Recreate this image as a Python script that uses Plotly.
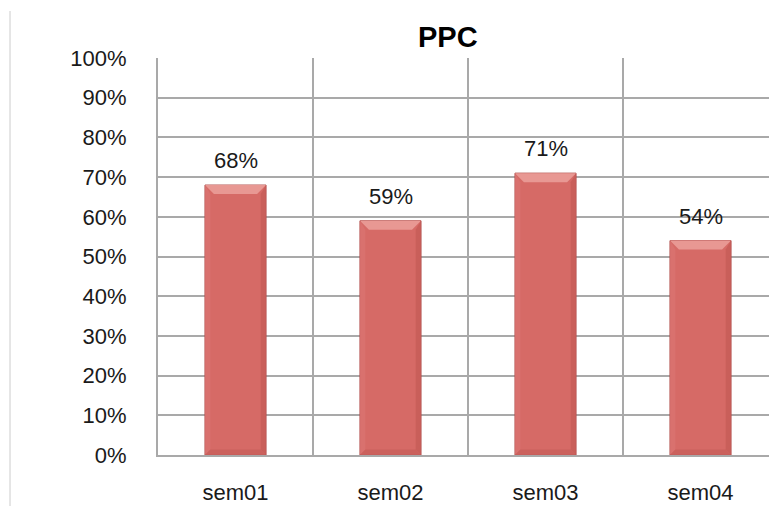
import plotly.graph_objects as go

# Weekly PPC values
categories = ["sem01", "sem02", "sem03", "sem04"]
ppc_values = [0.68, 0.59, 0.71, 0.54]
y_ticks = [i / 10 for i in range(11)]

FONT = "Liberation Sans, Arial, sans-serif"
BAR_W = 0.394
W, H = 769, 506
M_L, M_T, M_B = 158, 58, 51
PX_X = 155.0                      # pixels per category
PX_Y = (H - M_T - M_B) / 1.0      # pixels per unit on y
x_hi = -0.5 + (W - M_L) / PX_X

fig = go.Figure()
fig.add_trace(go.Bar(
    x=list(range(len(categories))), y=ppc_values, width=BAR_W,
    marker=dict(color="#d66a66", line=dict(color="#b0504d", width=1)),
    hoverinfo="skip",
))

shapes = []
# bevel highlights on each bar
bx = 9 / PX_X
by = 9 / PX_Y
hw = BAR_W / 2
for i, v in enumerate(ppc_values):
    x0, x1 = i - hw, i + hw
    # top face
    shapes.append(dict(type="path", xref="x", yref="y", layer="above",
                       path=f"M {x0},{v} L {x1},{v} L {x1-bx},{v-by} L {x0+bx},{v-by} Z",
                       fillcolor="#e89893", line=dict(width=0)))
    # right face
    shapes.append(dict(type="path", xref="x", yref="y", layer="above",
                       path=f"M {x1},{v} L {x1},0 L {x1-bx*0.6},{by*0.6} L {x1-bx*0.6},{v-by} Z",
                       fillcolor="#c65c58", line=dict(width=0), opacity=0.8))
    # left face
    shapes.append(dict(type="path", xref="x", yref="y", layer="above",
                       path=f"M {x0},{v} L {x0},0 L {x0+bx*0.6},{by*0.6} L {x0+bx*0.6},{v-by} Z",
                       fillcolor="#d97370", line=dict(width=0), opacity=0.8))
    # bottom face
    shapes.append(dict(type="path", xref="x", yref="y", layer="above",
                       path=f"M {x0},0 L {x1},0 L {x1-bx*0.6},{by*0.6} L {x0+bx*0.6},{by*0.6} Z",
                       fillcolor="#c85f5b", line=dict(width=0), opacity=0.8))

# vertical separators between categories
for i in range(len(categories) - 1):
    shapes.append(dict(type="line", xref="x", yref="y", layer="below",
                       x0=i + 0.5, x1=i + 0.5, y0=0, y1=1,
                       line=dict(color="#a9a9a9", width=2)))
# outer border line on the left
shapes.append(dict(type="line", xref="paper", yref="paper",
                   x0=-(M_L - 10) / (W - M_L), x1=-(M_L - 10) / (W - M_L),
                   y0=-M_B / PX_Y, y1=(H - 11 - M_B) / PX_Y,
                   line=dict(color="#cccccc", width=1)))

annotations = [
    dict(x=i, y=v, xref="x", yref="y", text=f"{round(v * 100)}%",
         showarrow=False, yanchor="bottom", yshift=10,
         font=dict(family=FONT, size=22, color="#1a1a1a"))
    for i, v in enumerate(ppc_values)
]
annotations.append(dict(x=(448 - M_L) / (W - M_L), y=(H - M_B - 37) / PX_Y,
                        xref="paper", yref="paper", text="<b>PPC</b>",
                        showarrow=False, xanchor="center", yanchor="middle",
                        font=dict(family=FONT, size=29, color="#000000")))

fig.update_layout(
    width=W, height=H,
    margin=dict(l=M_L, r=0, t=M_T, b=M_B, pad=0, autoexpand=False),
    paper_bgcolor="white", plot_bgcolor="white",
    showlegend=False,
    shapes=shapes, annotations=annotations,
    xaxis=dict(range=[-0.5, x_hi], tickvals=list(range(len(categories))),
               ticktext=categories, showgrid=False, zeroline=False,
               showline=True, linecolor="#a9a9a9", linewidth=2,
               ticks="", ticklabelstandoff=17, automargin=False,
               tickfont=dict(family=FONT, size=22, color="#1a1a1a"),
               fixedrange=True),
    yaxis=dict(range=[0, 1], tickvals=y_ticks, tickformat=".0%",
               showgrid=True, gridcolor="#a9a9a9", gridwidth=2,
               zeroline=False, showline=True, linecolor="#a9a9a9", linewidth=2,
               ticks="", ticklabelstandoff=25, automargin=False,
               tickfont=dict(family=FONT, size=22, color="#1a1a1a"),
               fixedrange=True),
)

fig.write_html("out.html")
